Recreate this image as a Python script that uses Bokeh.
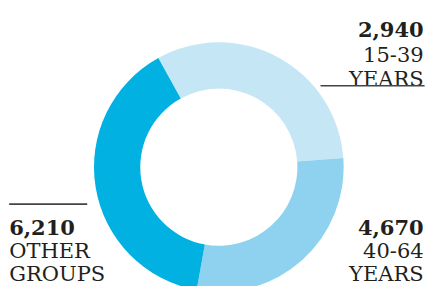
import numpy as np
from bokeh.plotting import figure
from bokeh.models import Range1d, ColumnDataSource
from bokeh.core.properties import value
from bokeh.embed import file_html
from bokeh.resources import INLINE

# Data
categories = ["15-39\nYEARS", "40-64\nYEARS", "OTHER\nGROUPS"]
values = [2940, 4670, 6210]
value_labels = ["2,940", "4,670", "6,210"]
# share of the ring each wedge takes in the picture (percent)
shares = [31.9, 29.0, 39.1]
start_offset_deg = -29.0  # clockwise from 12 o'clock where first wedge starts
colors = ["#c5e6f5", "#8ed2ef", "#00b1e2"]

W, H = 427, 286
REF_W, REF_H = 443, 302

def py(y):
    return REF_H - y

p = figure(width=W, height=H, output_backend="svg", toolbar_location=None,
           x_range=Range1d(0, REF_W), y_range=Range1d(0, REF_H),
           min_border=0)
p.axis.visible = False
p.grid.visible = False
p.outline_line_color = None
p.background_fill_color = "white"

cx, cy = 226.5, py(176)
r_in, r_out = 81.5, 129.5

cum = np.concatenate([[0], np.cumsum(shares)]) / 100.0 * 360.0 + start_offset_deg
start = np.deg2rad(90 - cum[:-1])
end = np.deg2rad(90 - cum[1:])
src = ColumnDataSource(dict(x=[cx] * 3, y=[cy] * 3, s=start, e=end, c=colors))
p.annular_wedge(x="x", y="y", inner_radius=r_in, outer_radius=r_out,
                start_angle="s", end_angle="e", direction="clock",
                fill_color="c", line_color=None, source=src)

font = value("DejaVu Serif")
tcol = "#231f20"
fs = value("21px")

# label anchor per category: (x, baseline of value line, align, line gap)
anchors = [(439, 31, "right", 26), (439, 240, "right", 24.5), (9, 240, "left", 24.5)]

for (ax, ay, al, gap), vl, cat in zip(anchors, value_labels, categories):
    l1, l2 = cat.split("\n")
    p.text(x=[ax], y=[py(ay)], text=[vl], text_font=font, text_font_size=fs,
           text_color=tcol, text_align=al, text_baseline="alphabetic",
           text_font_style="bold")
    p.text(x=[ax, ax], y=[py(ay + gap), py(ay + 2 * gap)], text=[l1, l2],
           text_font=font, text_font_size=fs, text_color=tcol, text_align=al,
           text_baseline="alphabetic")

p.segment(x0=[332, 9], y0=[py(90), py(215)], x1=[440, 90], y1=[py(90), py(215)],
          line_color="#444444", line_width=1.7)

open("out.html", "w").write(file_html(p, INLINE))
